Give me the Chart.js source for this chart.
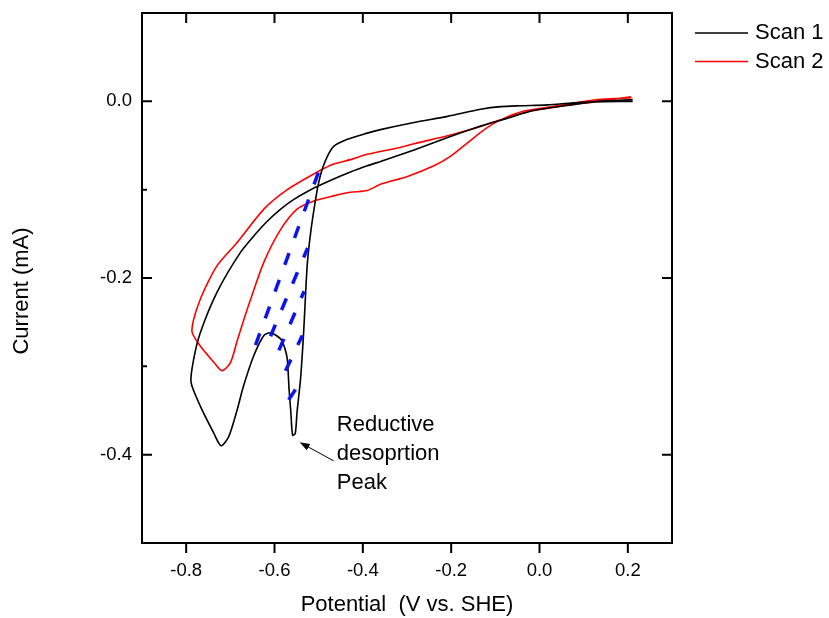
<!DOCTYPE html>
<html>
<head>
<meta charset="utf-8">
<script src="https://cdn.jsdelivr.net/npm/chart.js@4.4.0/dist/chart.umd.min.js"></script>
<style>
html,body{margin:0;padding:0;background:#fff;}
</style>
</head>
<body>
<canvas id="chart" width="829" height="618"></canvas>
<script>
// potential (V vs SHE) and current (mA) in sweep order
const scan1V=[0.211,0.094,0.018,-0.042,-0.088,-0.133,-0.208,-0.284,-0.360,-0.390,-0.435,-0.466,-0.480,-0.492,-0.500,-0.507,-0.518,-0.526,-0.534,-0.541,-0.549,-0.553,-0.559,-0.563,-0.567,-0.571,-0.577,-0.586,-0.609,-0.624,-0.647,-0.670,-0.685,-0.704,-0.721,-0.738,-0.768,-0.789,-0.783,-0.768,-0.730,-0.677,-0.639,-0.617,-0.586,-0.556,-0.518,-0.466,-0.428,-0.390,-0.360,-0.284,-0.208,-0.133,-0.072,-0.019,0.056,0.132,0.211];
const scan1I=[0.000,-0.001,-0.004,-0.005,-0.006,-0.009,-0.017,-0.024,-0.032,-0.036,-0.043,-0.051,-0.062,-0.077,-0.092,-0.111,-0.148,-0.186,-0.261,-0.314,-0.352,-0.376,-0.378,-0.352,-0.326,-0.292,-0.279,-0.269,-0.262,-0.265,-0.288,-0.322,-0.350,-0.380,-0.390,-0.375,-0.345,-0.318,-0.292,-0.262,-0.216,-0.171,-0.148,-0.136,-0.122,-0.111,-0.100,-0.088,-0.080,-0.073,-0.068,-0.055,-0.041,-0.028,-0.019,-0.011,-0.005,0.000,0.002];
const scan2V=[0.208,0.132,0.055,-0.035,-0.088,-0.125,-0.163,-0.201,-0.239,-0.299,-0.360,-0.390,-0.428,-0.466,-0.512,-0.549,-0.586,-0.624,-0.654,-0.670,-0.685,-0.700,-0.719,-0.738,-0.768,-0.787,-0.768,-0.730,-0.685,-0.624,-0.571,-0.503,-0.466,-0.428,-0.390,-0.314,-0.284,-0.208,-0.156,-0.095,-0.019,0.056,0.132,0.207];
const scan2I=[0.004,0.002,-0.004,-0.011,-0.021,-0.032,-0.047,-0.062,-0.073,-0.085,-0.094,-0.101,-0.103,-0.107,-0.113,-0.122,-0.145,-0.182,-0.224,-0.248,-0.272,-0.296,-0.305,-0.295,-0.277,-0.260,-0.224,-0.186,-0.160,-0.122,-0.100,-0.080,-0.071,-0.066,-0.060,-0.052,-0.048,-0.039,-0.032,-0.022,-0.011,-0.005,0.000,0.005];

// blue hatching under the desorption peak, bottom end first
const hatchV=[[-0.643,-0.498],[-0.609,-0.525],[-0.590,-0.533],[-0.575,-0.537],[-0.568,-0.551]];
const hatchI=[[-0.276,-0.077],[-0.266,-0.166],[-0.282,-0.215],[-0.305,-0.265],[-0.338,-0.325]];

const xTicks=[-0.8,-0.6,-0.4,-0.2,0.0,0.2];
const yTicks=[-0.4,-0.2,0.0];
const yMinor=[-0.3,-0.1];
const seriesNames=["Scan 1","Scan 2"];
const seriesColors=["#000000","#ff0000"];
const noteLines=["Reductive","desoprtion","Peak"];
const noteX=-0.459, noteY=[-0.373,-0.406,-0.439];
const arrowFrom=[-0.466,-0.407], arrowTo=[-0.543,-0.386];

const FONT="'Liberation Sans', Arial, sans-serif";

function pts(xs,ys){return xs.map((v,i)=>({x:v,y:ys[i]}));}

const datasets=[];
hatchV.forEach((h,i)=>{
datasets.push({data:pts(h,hatchI[i]),showLine:true,borderColor:"#0a14f0",borderWidth:3.5,
borderDash:[12.5,16],borderCapStyle:"butt",pointRadius:0,tension:0});
});
datasets.push({label:seriesNames[0],data:pts(scan1V,scan1I),showLine:true,borderColor:seriesColors[0],borderWidth:1.6,pointRadius:0,tension:0.25});
datasets.push({label:seriesNames[1],data:pts(scan2V,scan2I),showLine:true,borderColor:seriesColors[1],borderWidth:1.6,pointRadius:0,tension:0.25});

const frame={
id:"frame",
afterDatasetsDraw(chart){
const {ctx,chartArea:a,scales:{x,y}}=chart;
ctx.save();
ctx.strokeStyle="#000";
ctx.lineWidth=2;
ctx.strokeRect(a.left,a.top,a.right-a.left,a.bottom-a.top);
ctx.beginPath();
xTicks.forEach(v=>{
const px=x.getPixelForValue(v);
ctx.moveTo(px,a.bottom);ctx.lineTo(px,a.bottom+10);
ctx.moveTo(px,a.top);ctx.lineTo(px,a.top+10);
});
yTicks.forEach(v=>{
const py=y.getPixelForValue(v);
ctx.moveTo(a.left,py);ctx.lineTo(a.left+10,py);
ctx.moveTo(a.right,py);ctx.lineTo(a.right-10,py);
});
yMinor.forEach(v=>{
const py=y.getPixelForValue(v);
ctx.moveTo(a.left,py);ctx.lineTo(a.left+5,py);
});
ctx.stroke();

// arrow to the peak
const x0=x.getPixelForValue(arrowFrom[0]),y0=y.getPixelForValue(arrowFrom[1]);
const x1=x.getPixelForValue(arrowTo[0]),y1=y.getPixelForValue(arrowTo[1]);
const ang=Math.atan2(y1-y0,x1-x0);
ctx.lineWidth=1;
ctx.beginPath();
ctx.moveTo(x0,y0);ctx.lineTo(x1-8*Math.cos(ang),y1-8*Math.sin(ang));
ctx.stroke();
ctx.fillStyle="#000";
ctx.beginPath();
ctx.moveTo(x1,y1);
ctx.lineTo(x1-10*Math.cos(ang)+3.5*Math.sin(ang),y1-10*Math.sin(ang)-3.5*Math.cos(ang));
ctx.lineTo(x1-10*Math.cos(ang)-3.5*Math.sin(ang),y1-10*Math.sin(ang)+3.5*Math.cos(ang));
ctx.closePath();ctx.fill();
ctx.restore();
},
afterDraw(chart){
const {ctx,chartArea:a,scales:{x,y}}=chart;
ctx.save();
ctx.fillStyle="#000";
ctx.font="22px "+FONT;
// annotation
ctx.textAlign="left";ctx.textBaseline="alphabetic";
noteLines.forEach((t,i)=>ctx.fillText(t,x.getPixelForValue(noteX),y.getPixelForValue(noteY[i])));
// axis titles
ctx.textAlign="center";ctx.textBaseline="middle";
ctx.fillText("Potential  (V vs. SHE)",(a.left+a.right)/2,605);
ctx.save();
ctx.translate(22,291);ctx.rotate(-Math.PI/2);
ctx.fillText("Current (mA)",0,0);
ctx.restore();
// legend
seriesNames.forEach((n,i)=>{
const ly=33+i*28.5;
ctx.strokeStyle=seriesColors[i];ctx.lineWidth=1.6;
ctx.beginPath();ctx.moveTo(695,ly);ctx.lineTo(748,ly);ctx.stroke();
ctx.textAlign="left";
ctx.fillText(n,755,ly);
});
ctx.restore();
}
};

new Chart(document.getElementById("chart"),{
type:"scatter",
data:{datasets},
options:{
responsive:false,
animation:false,
devicePixelRatio:1,
layout:{padding:{top:13,right:157,left:0,bottom:0}},
plugins:{legend:{display:false},tooltip:{enabled:false}},
scales:{
x:{type:"linear",min:-0.9,max:0.3,
afterBuildTicks:s=>{s.ticks=xTicks.map(v=>({value:v}));},
afterFit:s=>{s.height=75;s.paddingLeft=0;s.paddingRight=0;},
ticks:{callback:v=>v.toFixed(1),color:"#000",font:{family:FONT,size:18.5},padding:17,maxRotation:0,autoSkip:false},
grid:{display:false,drawTicks:false},border:{display:false}},
y:{type:"linear",min:-0.5,max:0.1,
afterBuildTicks:s=>{s.ticks=yTicks.map(v=>({value:v}));},
afterFit:s=>{s.width=142;s.paddingTop=0;s.paddingBottom=0;},
ticks:{callback:v=>v.toFixed(1),color:"#000",font:{family:FONT,size:18.5},padding:10,autoSkip:false},
grid:{display:false,drawTicks:false},border:{display:false}}
}
},
plugins:[frame]
});
</script>
</body>
</html>
